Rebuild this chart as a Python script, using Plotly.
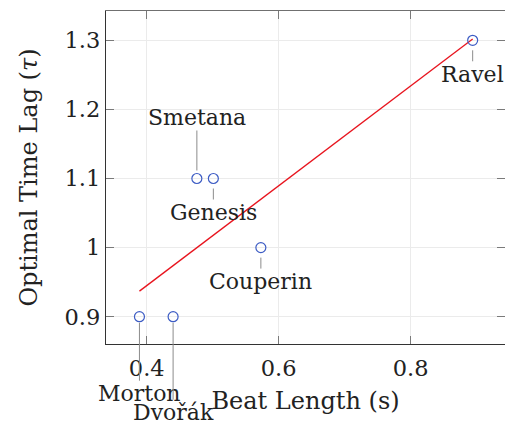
import plotly.graph_objects as go

composers = ["Morton", "Dvořák", "Smetana", "Genesis", "Couperin", "Ravel"]
beat_length = [0.389, 0.440, 0.476, 0.501, 0.573, 0.894]
time_lag = [0.9, 0.9, 1.1, 1.1, 1.0, 1.3]
trend_x = [0.389, 0.894]
trend_y = [0.937, 1.302]
x_ticks = [0.4, 0.6, 0.8]
x_tick_text = ["0.4", "0.6", "0.8"]
y_ticks = [0.9, 1.0, 1.1, 1.2, 1.3]
y_tick_text = ["0.9", "1", "1.1", "1.2", "1.3"]
# label pixel offsets (ax, ay) and standoff per composer
label_offsets = {
    "Morton": (0, 77, 6),
    "Dvořák": (0, 96, 6),
    "Smetana": (0, -61, 8),
    "Genesis": (0, 34, 10),
    "Couperin": (0, 34, 10),
    "Ravel": (0, 34, 10),
}

FONT = "DejaVu Serif"
TXT = "#222222"
xr = [0.3383, 0.943]
yr = [0.8605, 1.3424]

fig = go.Figure()
fig.add_trace(go.Scatter(x=trend_x, y=trend_y, mode="lines",
                         line=dict(color="#e8141e", width=1.3), showlegend=False))
fig.add_trace(go.Scatter(x=beat_length, y=time_lag, mode="markers",
                         marker=dict(symbol="circle-open", size=10,
                                     line=dict(color="#3d5cc4", width=1.2), color="#3d5cc4"),
                         showlegend=False, cliponaxis=False))
# invisible trace for mirrored axes
fig.add_trace(go.Scatter(x=[None], y=[None], xaxis="x2", yaxis="y2", showlegend=False))

for name, bx, ty in zip(composers, beat_length, time_lag):
    ax, ay, so = label_offsets[name]
    fig.add_annotation(x=bx, y=ty, text=name, showarrow=True, arrowhead=0,
                       arrowwidth=1, arrowcolor="#8c8c8c", ax=ax, ay=ay,
                       standoff=so, font=dict(family=FONT, size=22, color=TXT),
                       borderpad=0)

axis_common = dict(ticks="inside", ticklen=8, tickcolor="#7a7a7a", tickwidth=1,
                   showgrid=True, gridcolor="#ebebeb", gridwidth=1, zeroline=False,
                   tickfont=dict(family=FONT, size=22.5, color=TXT))

fig.update_layout(
    width=505, height=427,
    margin=dict(l=106, r=0, t=11, b=83),
    paper_bgcolor="white", plot_bgcolor="white",
    font=dict(family=FONT, size=22, color=TXT),
    xaxis=dict(range=xr, tickvals=x_ticks, ticktext=x_tick_text,
               showline=True, linecolor="#333333", linewidth=1.3,
               ticklabelstandoff=4,
               title=dict(text="Beat Length (s)", standoff=12,
                          font=dict(family=FONT, size=24, color=TXT)),
               **axis_common),
    yaxis=dict(range=yr, tickvals=y_ticks, ticktext=y_tick_text,
               showline=True, linecolor="#333333", linewidth=1.3,
               title=dict(text="Optimal Time Lag (<i>τ</i>)", standoff=20,
                          font=dict(family=FONT, size=24, color=TXT)),
               **axis_common),
    xaxis2=dict(range=xr, overlaying="x", side="top", tickvals=x_ticks,
                showticklabels=False, showline=True, linecolor="#707070", linewidth=1.3,
                ticks="inside", ticklen=8, tickcolor="#7a7a7a", showgrid=False, zeroline=False),
    yaxis2=dict(range=yr, overlaying="y", side="right", tickvals=y_ticks,
                showticklabels=False, showline=False,
                ticks="inside", ticklen=8, tickcolor="#7a7a7a", showgrid=False, zeroline=False),
)

fig.write_html("out.html")
